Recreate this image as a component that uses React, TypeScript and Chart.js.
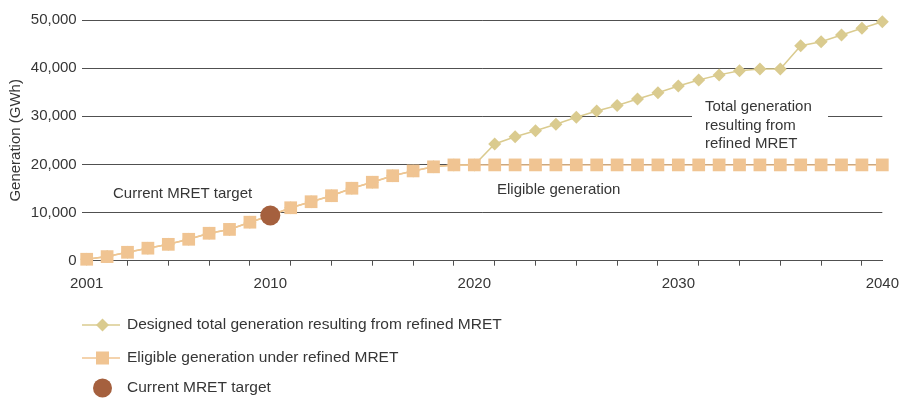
import React, { useEffect, useRef } from "react";
import { Chart, registerables } from "chart.js";

Chart.register(...registerables);

// Years on the horizontal axis
const years = [
  2001, 2002, 2003, 2004, 2005, 2006, 2007, 2008, 2009, 2010,
  2011, 2012, 2013, 2014, 2015, 2016, 2017, 2018, 2019, 2020,
  2021, 2022, 2023, 2024, 2025, 2026, 2027, 2028, 2029, 2030,
  2031, 2032, 2033, 2034, 2035, 2036, 2037, 2038, 2039, 2040,
];

// Eligible generation under refined MRET (GWh)
const eligible = [
  300, 850, 1750, 2600, 3400, 4450, 5700, 6500, 8000, 9400,
  11000, 12250, 13500, 15050, 16300, 17650, 18650, 19500, 19900, 19900,
  19900, 19900, 19900, 19900, 19900, 19900, 19900, 19900, 19900, 19900,
  19900, 19900, 19900, 19900, 19900, 19900, 19900, 19900, 19900, 19900,
];

// Designed total generation resulting from refined MRET (GWh)
const designed = [
  300, 850, 1750, 2600, 3400, 4450, 5700, 6500, 8000, 9400,
  11000, 12250, 13500, 15050, 16300, 17650, 18650, 19500, 19900, 19900,
  24250, 25750, 27000, 28350, 29800, 31100, 32250, 33600, 34900, 36300,
  37550, 38600, 39450, 39800, 39800, 44650, 45500, 46900, 48300, 49650,
];

// Current MRET target
const targetYear = [2010];
const targetValue = [9400];

const labeledYears = [2001, 2010, 2020, 2030, 2040];
const yTicks = [0, 10000, 20000, 30000, 40000, 50000];

const seriesNames = [
  "Designed total generation resulting from refined MRET",
  "Eligible generation under refined MRET",
  "Current MRET target",
];

const KHAKI = "#dacb8f";
const PEACH = "#f0c492";
const BROWN = "#a5603e";
const GRID = "#505050";
const TEXT = "#363636";
const FONT = '"Liberation Sans", Arial, sans-serif';

const overlayPlugin = {
  id: "overlay",
  beforeDatasetsDraw(chart: any) {
    const ctx = chart.ctx as CanvasRenderingContext2D;
    ctx.save();
    // gap in the 30,000 gridline behind the callout
    ctx.fillStyle = "#ffffff";
    ctx.fillRect(692, 98, 136, 54);
    ctx.fillStyle = TEXT;
    ctx.font = `15px ${FONT}`;
    ctx.textAlign = "left";
    ctx.textBaseline = "middle";
    ctx.fillText("Total generation", 705, 107);
    ctx.fillText("resulting from", 705, 125.5);
    ctx.fillText("refined MRET", 705, 143.5);
    ctx.fillText("Eligible generation", 497, 190);
    ctx.fillText("Current MRET target", 113, 194);
    ctx.restore();
  },
  afterDraw(chart: any) {
    const ctx = chart.ctx as CanvasRenderingContext2D;
    ctx.save();
    ctx.font = `15.5px ${FONT}`;
    ctx.textAlign = "left";
    ctx.textBaseline = "middle";
    const x0 = 82;
    const x1 = 120;
    const mx = 102.5;
    const rows = [325, 358, 388];

    // row 1: line + diamond
    ctx.strokeStyle = KHAKI;
    ctx.lineWidth = 1.5;
    ctx.beginPath();
    ctx.moveTo(x0, rows[0]);
    ctx.lineTo(x1, rows[0]);
    ctx.stroke();
    ctx.fillStyle = KHAKI;
    ctx.beginPath();
    const r = 6.5;
    ctx.moveTo(mx, rows[0] - r);
    ctx.lineTo(mx + r, rows[0]);
    ctx.lineTo(mx, rows[0] + r);
    ctx.lineTo(mx - r, rows[0]);
    ctx.closePath();
    ctx.fill();

    // row 2: line + square
    ctx.strokeStyle = PEACH;
    ctx.beginPath();
    ctx.moveTo(x0, rows[1]);
    ctx.lineTo(x1, rows[1]);
    ctx.stroke();
    ctx.fillStyle = PEACH;
    ctx.fillRect(mx - 6.5, rows[1] - 6.5, 13, 13);

    // row 3: circle
    ctx.fillStyle = BROWN;
    ctx.beginPath();
    ctx.arc(mx, rows[2], 9.5, 0, Math.PI * 2);
    ctx.fill();

    ctx.fillStyle = TEXT;
    seriesNames.forEach((name, i) => ctx.fillText(name, 127, rows[i]));
    ctx.restore();
  },
};

export default function App() {
  const ref = useRef<HTMLCanvasElement | null>(null);

  useEffect(() => {
    if (!ref.current) return;
    const chart = new Chart(ref.current, {
      type: "line",
      data: {
        datasets: [
          {
            label: seriesNames[2],
            data: targetYear.map((x, i) => ({ x, y: targetValue[i] })),
            showLine: false,
            pointStyle: "circle",
            pointRadius: 10,
            pointBorderWidth: 0,
            backgroundColor: BROWN,
            borderColor: BROWN,
            clip: false,
            order: 0,
          },
          {
            label: seriesNames[1],
            data: years.map((x, i) => ({ x, y: eligible[i] })),
            pointStyle: "rect",
            pointRadius: 9,
            pointBorderWidth: 0,
            backgroundColor: PEACH,
            borderColor: PEACH,
            borderWidth: 1.5,
            clip: false,
            order: 1,
          },
          {
            label: seriesNames[0],
            data: years.map((x, i) => ({ x, y: designed[i] })),
            pointStyle: "rectRot",
            pointRadius: 6.5,
            pointBorderWidth: 0,
            backgroundColor: KHAKI,
            borderColor: KHAKI,
            borderWidth: 1.5,
            clip: false,
            order: 2,
          },
        ],
      },
      options: {
        animation: false,
        responsive: false,
        maintainAspectRatio: false,
        events: [],
        layout: { padding: { top: 20, right: 24.7, bottom: 97.3, left: 0 } },
        plugins: { legend: { display: false }, tooltip: { enabled: false } },
        scales: {
          x: {
            type: "linear",
            min: 2000.755,
            max: 2040,
            afterBuildTicks: (s: any) => {
              s.ticks = years.map((v) => ({ value: v }));
            },
            afterFit: (s: any) => {
              s.height = 40;
            },
            ticks: {
              autoSkip: false,
              maxRotation: 0,
              padding: 9,
              color: TEXT,
              font: { family: FONT, size: 15 },
              callback: (v: any) => (labeledYears.includes(v) ? String(v) : ""),
            },
            grid: {
              drawOnChartArea: false,
              drawTicks: true,
              tickLength: 5,
              lineWidth: 1,
              color: (c: any) => {
                const v = c.tick ? c.tick.value : 0;
                return v % 2 === 1 && v > 2001 && v < 2040 ? GRID : "rgba(0,0,0,0)";
              },
            },
            border: { display: true, color: GRID },
          },
          y: {
            min: 0,
            max: 50000,
            afterBuildTicks: (s: any) => {
              s.ticks = yTicks.map((v) => ({ value: v }));
            },
            afterFit: (s: any) => {
              s.width = 81.7;
            },
            ticks: {
              padding: 5,
              color: TEXT,
              font: { family: FONT, size: 15 },
              callback: (v: any) => Number(v).toLocaleString("en-US"),
            },
            grid: { color: GRID, lineWidth: 1, drawTicks: false },
            border: { display: false },
            title: {
              display: true,
              text: "Generation (GWh)",
              color: TEXT,
              font: { family: FONT, size: 15 },
              padding: { top: 7, bottom: 0 },
            },
          },
        },
      },
      plugins: [overlayPlugin],
    });
    return () => chart.destroy();
  }, []);

  return (
    <div style={{ position: "absolute", left: 0, top: 0, width: 908, height: 398, background: "#fff" }}>
      <canvas ref={ref} width={908} height={398} style={{ width: 908, height: 398 }} />
    </div>
  );
}
